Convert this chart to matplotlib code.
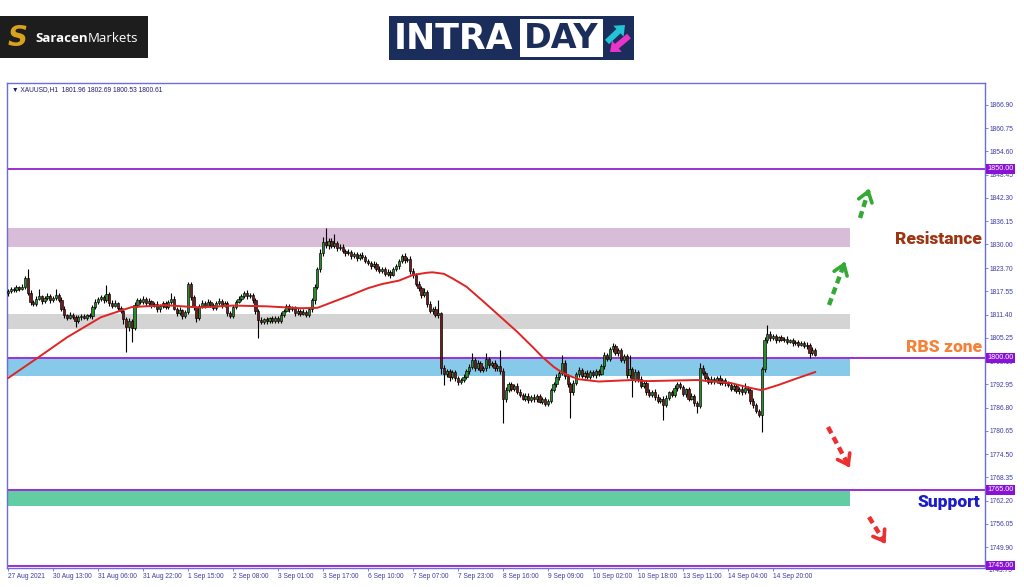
import numpy as np
import matplotlib.pyplot as plt
from matplotlib.patches import Rectangle, FancyArrow

# ---- data (XAUUSD H1) ----
first_open = 1817.0
closes = [
    1817.6, 1818.2, 1818.0, 1818.6, 1818.3, 1818.8, 1821.0, 1817.2, 1814.8, 1814.2, 1815.6, 1816.2, 1815.0, 1815.8, 1816.4, 1815.2,
    1815.8, 1816.6, 1815.4, 1813.0, 1811.2, 1810.6, 1811.4, 1810.8, 1809.6, 1810.8, 1811.0, 1810.6, 1811.2, 1811.0, 1813.4, 1814.8,
    1815.6, 1816.0, 1815.2, 1816.8, 1814.6, 1813.8, 1814.4, 1813.2, 1812.4, 1810.2, 1808.2, 1809.6, 1807.8, 1814.0, 1815.2, 1814.8,
    1815.6, 1814.4, 1815.0, 1813.8, 1814.2, 1812.8, 1813.6, 1814.4, 1813.4, 1814.8, 1815.6, 1813.0, 1811.8, 1812.6, 1811.0, 1812.0,
    1819.4, 1816.0, 1813.4, 1810.6, 1813.6, 1814.6, 1813.8, 1814.8, 1814.0, 1813.2, 1814.4, 1815.0, 1813.8, 1814.6, 1811.8, 1811.0,
    1813.4, 1814.8, 1815.6, 1816.4, 1817.0, 1816.2, 1816.6, 1815.2, 1812.4, 1810.0, 1809.4, 1810.2, 1809.6, 1810.4, 1809.8, 1810.6,
    1809.8, 1811.4, 1812.4, 1813.6, 1812.8, 1813.2, 1811.8, 1812.4, 1811.6, 1812.2, 1811.4, 1812.8, 1815.2, 1818.8, 1823.4, 1827.6,
    1830.6, 1829.8, 1831.0, 1829.6, 1830.4, 1829.0, 1829.4, 1828.2, 1827.6, 1828.0, 1826.8, 1827.4, 1826.4, 1827.2, 1826.6, 1825.6,
    1825.0, 1824.2, 1824.8, 1823.6, 1823.0, 1823.4, 1822.2, 1822.8, 1822.0, 1823.4, 1824.2, 1825.6, 1826.8, 1825.8, 1826.2, 1823.0,
    1821.8, 1819.6, 1818.4, 1816.6, 1817.4, 1814.2, 1812.4, 1813.0, 1811.2, 1811.8, 1797.2, 1795.6, 1796.4, 1795.0, 1796.2, 1794.6,
    1793.6, 1794.2, 1795.0, 1796.4, 1797.6, 1799.4, 1797.4, 1798.6, 1796.8, 1797.2, 1799.6, 1798.0, 1798.6, 1797.2, 1797.8, 1796.6,
    1789.2, 1791.4, 1793.0, 1791.8, 1792.6, 1791.0, 1790.2, 1789.2, 1790.0, 1788.8, 1789.6, 1789.0, 1789.8, 1788.4, 1789.0, 1787.8,
    1788.6, 1791.4, 1793.0, 1794.8, 1796.0, 1798.6, 1795.2, 1793.0, 1790.8, 1793.4, 1795.6, 1796.8, 1795.2, 1796.0, 1795.0, 1796.2,
    1795.4, 1796.4, 1795.8, 1797.8, 1800.6, 1799.6, 1802.2, 1803.0, 1801.2, 1802.0, 1799.4, 1800.4, 1795.4, 1797.0, 1794.2, 1796.2,
    1794.4, 1792.6, 1793.4, 1791.0, 1790.2, 1791.0, 1789.6, 1788.6, 1789.2, 1787.6, 1789.4, 1790.8, 1790.2, 1792.0, 1793.0, 1792.2,
    1790.4, 1791.6, 1789.2, 1790.0, 1788.0, 1787.2, 1797.4, 1796.0, 1794.6, 1793.6, 1794.4, 1793.8, 1794.6, 1793.4, 1794.0, 1793.2,
    1792.8, 1791.8, 1792.4, 1791.2, 1791.8, 1790.8, 1792.0, 1791.4, 1788.6, 1787.4, 1786.0, 1784.8, 1797.0, 1804.6, 1806.4, 1805.2,
    1805.8, 1804.6, 1805.4, 1804.8, 1805.0, 1804.2, 1804.6, 1803.8, 1804.2, 1803.4, 1803.8, 1803.0, 1803.4, 1801.2, 1801.96, 1800.61,
]
upper_wick = [
    0.5, 0.6, 0.4, 0.7, 0.5, 0.6, 0.5, 2.4, 0.6, 0.5, 0.7, 2.0, 0.4, 0.6, 0.8, 0.5,
    0.6, 1.5, 0.5, 0.7, 0.6, 0.4, 0.8, 0.5, 0.4, 0.6, 0.5, 0.7, 0.4, 0.6, 0.5, 0.8,
    0.5, 0.7, 0.6, 2.5, 0.5, 0.6, 0.8, 0.4, 0.6, 0.7, 0.5, 0.9, 0.6, 0.7, 0.5, 0.6,
    0.6, 0.5, 0.7, 0.4, 0.6, 0.8, 0.5, 0.6, 0.7, 0.5, 1.6, 0.6, 0.5, 0.7, 0.4, 0.6,
    0.7, 0.6, 0.5, 0.4, 0.7, 0.6, 0.5, 0.8, 0.4, 0.6, 0.5, 0.7, 0.6, 0.5, 0.4, 0.6,
    0.5, 0.6, 0.7, 0.5, 0.6, 0.8, 0.5, 0.4, 0.6, 0.5, 0.7, 0.4, 0.6, 0.5, 0.6, 0.4,
    0.5, 0.6, 0.4, 0.7, 0.5, 0.6, 0.5, 0.7, 0.4, 0.6, 0.5, 0.6, 0.5, 0.8, 0.6, 1.2,
    1.4, 3.8, 0.8, 0.6, 2.4, 0.5, 0.7, 0.6, 0.5, 0.8, 0.6, 0.7, 0.5, 0.6, 0.7, 0.5,
    0.6, 0.5, 0.7, 0.4, 0.6, 0.5, 0.7, 0.6, 0.5, 0.6, 0.7, 0.5, 0.6, 1.0, 0.5, 0.6,
    0.7, 0.6, 0.8, 0.5, 1.0, 0.6, 0.7, 0.5, 0.6, 3.5, 0.4, 0.8, 0.6, 0.7, 0.5, 0.6,
    0.6, 0.5, 0.7, 0.6, 0.8, 1.9, 0.6, 0.7, 0.5, 0.6, 1.7, 0.6, 0.5, 0.7, 0.6, 4.3,
    0.6, 0.8, 0.7, 0.6, 0.5, 0.7, 0.6, 0.5, 0.7, 0.6, 0.5, 0.7, 0.6, 0.5, 0.6, 0.7,
    0.6, 0.7, 0.5, 0.8, 0.6, 2.1, 0.7, 0.6, 0.5, 0.7, 0.6, 0.8, 0.5, 0.6, 0.7, 0.5,
    0.6, 0.5, 0.7, 0.6, 0.8, 0.6, 0.7, 0.9, 0.6, 0.5, 0.7, 0.6, 0.5, 3.7, 0.6, 0.7,
    0.6, 0.7, 0.5, 0.6, 0.7, 0.5, 0.6, 0.8, 0.5, 0.6, 0.7, 0.5, 0.6, 0.7, 0.5, 0.6,
    0.6, 0.5, 0.7, 0.6, 0.5, 0.6, 1.2, 0.7, 0.6, 0.5, 0.7, 0.6, 0.5, 0.7, 0.6, 0.5,
    0.6, 0.5, 0.7, 0.6, 0.5, 0.7, 1.4, 0.6, 0.5, 0.7, 0.6, 0.5, 0.6, 0.9, 2.3, 0.7,
    0.5, 0.6, 0.4, 0.6, 0.5, 0.7, 0.4, 0.6, 0.5, 0.4, 0.6, 0.5, 0.7, 0.6, 0.8, 0.73,
]
lower_wick = [
    0.6, 0.4, 0.7, 0.5, 0.6, 0.4, 0.5, 0.7, 0.8, 0.6, 0.5, 0.4, 0.7, 0.5, 0.4, 0.6,
    0.5, 0.4, 0.7, 0.6, 0.8, 0.5, 0.4, 0.6, 1.6, 0.5, 0.7, 0.4, 0.6, 0.5, 0.7, 0.4,
    0.6, 0.5, 0.7, 0.4, 0.8, 0.6, 0.5, 0.7, 0.6, 1.2, 6.7, 1.0, 3.6, 0.5, 0.6, 0.7,
    0.5, 0.7, 0.4, 0.6, 0.5, 0.7, 0.6, 0.4, 0.5, 0.6, 0.7, 0.5, 0.8, 0.6, 0.7, 0.5,
    0.5, 0.6, 0.7, 1.1, 0.5, 0.4, 0.6, 0.5, 0.7, 0.6, 0.5, 0.4, 0.6, 0.5, 0.8, 0.6,
    0.6, 0.5, 0.4, 0.6, 0.5, 0.7, 0.4, 0.6, 0.8, 4.7, 0.6, 0.5, 0.7, 0.4, 0.6, 0.5,
    0.6, 0.5, 0.7, 0.4, 0.6, 0.5, 0.7, 0.5, 0.6, 0.4, 0.7, 0.5, 0.6, 0.9, 0.7, 0.8,
    0.8, 0.7, 0.9, 0.6, 0.5, 0.7, 0.6, 0.5, 0.7, 0.4, 0.6, 0.5, 0.7, 0.6, 0.5, 0.6,
    0.5, 0.7, 0.4, 0.6, 0.5, 0.7, 0.6, 0.5, 0.8, 0.5, 0.4, 0.6, 0.5, 0.7, 0.6, 0.8,
    0.8, 0.6, 0.7, 0.9, 0.5, 0.7, 0.6, 0.8, 0.5, 0.6, 1.5, 2.8, 0.7, 1.2, 0.6, 0.8,
    0.7, 0.6, 0.5, 0.7, 0.6, 0.5, 0.8, 0.6, 0.7, 0.5, 0.6, 0.7, 0.5, 0.6, 0.7, 0.8,
    6.5, 0.8, 0.6, 0.7, 0.5, 0.6, 0.7, 0.5, 0.6, 0.8, 0.5, 0.7, 0.6, 0.5, 0.7, 0.6,
    0.7, 0.6, 0.5, 0.7, 0.6, 0.5, 0.8, 0.7, 6.7, 0.6, 0.5, 0.7, 0.6, 0.5, 0.7, 0.6,
    0.5, 0.7, 0.6, 0.5, 0.7, 0.6, 0.5, 0.7, 0.6, 0.8, 0.5, 0.7, 0.9, 0.8, 4.6, 0.6,
    0.7, 0.5, 0.6, 0.8, 0.6, 0.5, 0.7, 0.6, 0.5, 4.1, 0.6, 0.7, 0.5, 0.6, 0.7, 0.5,
    0.5, 0.7, 0.6, 0.5, 0.8, 1.8, 0.6, 0.5, 0.7, 0.6, 0.5, 0.7, 0.6, 0.5, 0.7, 0.6,
    0.5, 0.7, 0.6, 0.5, 0.7, 0.6, 0.5, 0.7, 0.8, 0.6, 0.7, 0.6, 4.4, 0.8, 0.6, 0.7,
    0.4, 0.6, 0.5, 0.4, 0.6, 0.5, 0.4, 0.6, 0.5, 0.6, 0.4, 0.5, 0.6, 1.3, 0.5, 0.08,
]

# moving average, read at a number of bars
ma_bars = [0, 11, 21, 33, 39, 44, 56, 68, 80, 92,
           104, 110, 116, 122, 128, 133, 139, 144, 149, 151,
           155, 158, 163, 169, 175, 181, 187, 190, 194, 197, 200,
           203, 210, 222, 227, 245, 257, 264, 268, 274, 280, 287]
ma_values = [1794.6, 1800.2, 1805.4, 1810.7, 1812.2, 1813.4, 1813.9, 1813.3, 1813.8, 1813.6,
             1813.1, 1813.2, 1814.9, 1816.6, 1818.4, 1819.5, 1820.4, 1821.9, 1822.5, 1822.6,
             1822.2, 1821.0, 1818.8, 1814.9, 1810.9, 1806.9, 1802.5, 1800.2, 1797.6, 1796.1, 1795.1,
             1794.3, 1793.7, 1794.1, 1793.8, 1794.1, 1793.3, 1792.0, 1791.4, 1792.8, 1794.4, 1796.2]

time_labels = ['27 Aug 2021', '30 Aug 13:00', '31 Aug 06:00', '31 Aug 22:00', '1 Sep 15:00',
               '2 Sep 08:00', '3 Sep 01:00', '3 Sep 17:00', '6 Sep 10:00', '7 Sep 07:00',
               '7 Sep 23:00', '8 Sep 16:00', '9 Sep 09:00', '10 Sep 02:00', '10 Sep 18:00',
               '13 Sep 11:00', '14 Sep 04:00', '14 Sep 20:00']
price_ticks = [1866.90, 1860.75, 1854.60, 1848.45, 1842.30, 1836.15, 1830.00, 1823.70,
               1817.55, 1811.40, 1805.25, 1799.10, 1792.95, 1786.80, 1780.65, 1774.50,
               1768.35, 1762.20, 1756.05, 1749.90]
levels = [1850.00, 1800.00, 1765.00, 1745.00]
zone_low = [1829.4, 1807.5, 1795.1, 1760.8]
zone_high = [1834.2, 1811.7, 1799.6, 1765.0]
zone_colors = ['#d8bcd8', '#d4d4d4', '#86c9e8', '#62cda2']

# ---- figure ----
W, H = 1024, 587
fig = plt.figure(figsize=(W / 100, H / 100), dpi=100)
fig.patch.set_facecolor('white')

frame = '#6c6cdc'
tick_col = '#3b3ba6'
ax = fig.add_axes([7 / W, (H - 568) / H, (985 - 7) / W, (568 - 83) / H])
ax.set_xlim(-0.36, 347.4)
ax.set_ylim(1744.35, 1872.7)
for s in ax.spines.values():
    s.set_color(frame)
    s.set_linewidth(1.0)

opens = np.r_[first_open, closes[:-1]]
c = np.array(closes)
highs = np.maximum(opens, c) + np.array(upper_wick)
lows = np.minimum(opens, c) - np.array(lower_wick)
x = np.arange(len(c))
up = c >= opens

# zones
for lo, hi, col in zip(zone_low, zone_high, zone_colors):
    ax.add_patch(Rectangle((-0.36, lo), 299.8, hi - lo, fc=col, ec='none', zorder=1))

for lv in levels:
    ax.axhline(lv, color='#9b2fd4', lw=1.4, zorder=2)
    ax.text(1.002, lv, '%.2f' % lv, transform=ax.get_yaxis_transform(), fontsize=5.2,
            family='Liberation Sans', color='white', ha='left', va='center', zorder=6, clip_on=False,
            bbox=dict(boxstyle='square,pad=0.2', fc='#8a12d6', ec='none'))

# candles
ax.vlines(x, lows, highs, color='black', lw=0.8, zorder=3)
ax.bar(x[up], (c - opens)[up], bottom=opens[up], width=0.8, color='#2b8c2e',
       edgecolor='black', linewidth=0.45, zorder=4)
ax.bar(x[~up], (opens - c)[~up], bottom=c[~up], width=0.8, color='#701c1c',
       edgecolor='black', linewidth=0.45, zorder=4)

ax.plot(ma_bars, ma_values, color='#e02424', lw=1.4, zorder=5, solid_joinstyle='round')

# axes ticks
ax.yaxis.tick_right()
ax.set_yticks(price_ticks)
ax.set_yticklabels(['%.2f' % p for p in price_ticks])
ax.set_xticks(np.arange(0, 16 * len(time_labels), 16))
ax.set_xticklabels(time_labels, ha='left')
ax.tick_params(axis='both', length=2, width=0.6, color=frame, labelsize=4.8,
               labelcolor=tick_col, pad=1.5)
for t in ax.get_xticklabels() + ax.get_yticklabels():
    t.set_family('Liberation Sans')
ax.text(1.004, 1743.75, '1743.75', transform=ax.get_yaxis_transform(), fontsize=4.8,
        family='Liberation Sans', color=tick_col, ha='left', va='center', clip_on=False, zorder=1)

ax.text(0.005, 0.987, '\u25bc XAUUSD,H1  1801.96 1802.69 1800.53 1800.61', transform=ax.transAxes,
        fontsize=4.8, family='Liberation Sans', color='#1c1c70', ha='left', va='center')

# ---- overlay in pixel coordinates: logos, arrows, labels ----
ov = fig.add_axes([0, 0, 1, 1], zorder=10)
ov.set_xlim(0, W)
ov.set_ylim(H, 0)
ov.axis('off')
ov.patch.set_alpha(0)

ov.text(982, 239, 'Resistance', fontsize=12.5, family='Roboto', fontweight='black',
        color='#9c3612', ha='right', va='center')
ov.text(982, 347, 'RBS zone', fontsize=12.5, family='Roboto', fontweight='black',
        color='#f3823a', ha='right', va='center')
ov.text(980, 502, 'Support', fontsize=12.5, family='Roboto', fontweight='black',
        color='#1c1ccc', ha='right', va='center')

def dashed_arrow(x0, y0, x1, y1, col):
    d = np.hypot(x1 - x0, y1 - y0)
    ux, uy = (x1 - x0) / d, (y1 - y0) / d
    ov.plot([x0, x1 - ux * 5], [y0, y1 - uy * 5], color=col, lw=3.2,
            ls=(0, (1.6, 1.0)), solid_capstyle='butt')
    ov.annotate('', xy=(x1, y1), xytext=(x1 - ux * 9, y1 - uy * 9),
                arrowprops=dict(arrowstyle='->,head_length=0.7,head_width=0.5',
                                color=col, lw=2.6, mutation_scale=10))

dashed_arrow(829, 305, 846, 259, '#35a835')
dashed_arrow(860, 218, 870, 186, '#35a835')
dashed_arrow(828, 427, 851, 470, '#ec2f2f')
dashed_arrow(869, 517, 887, 546, '#ec2f2f')

# Saracen Markets logo
ov.add_patch(Rectangle((0, 16), 148, 42, fc='#1d1d1d', ec='none'))
ov.text(18, 38, 'S', fontsize=20, family='DejaVu Sans', fontweight='bold', style='italic',
        color='#d8a11e', ha='center', va='center')
t1 = ov.text(35, 38, 'Saracen', fontsize=9.5, family='Open Sans', fontweight='bold',
             color='white', ha='left', va='center')
ov.annotate('Markets', xy=(1, 0.5), xycoords=t1, fontsize=9.5, family='Open Sans',
            color='white', ha='left', va='center')

# INTRADAY logo
ov.add_patch(Rectangle((389, 16), 245, 44, fc='#1b2d5a', ec='none'))
ov.add_patch(Rectangle((520, 19), 83, 38, fc='white', ec='none'))
ov.text(394, 39, 'INTRA', fontsize=25, family='DejaVu Sans', fontweight='bold',
        color='white', ha='left', va='center')
ov.text(561, 39, 'DAY', fontsize=24, family='DejaVu Sans', fontweight='bold',
        color='#1b2d5a', ha='center', va='center')
ov.add_patch(FancyArrow(607, 42, 18, -17, width=6, head_width=15, head_length=9,
                        length_includes_head=True, fc='#22c4d6', ec='none'))
ov.add_patch(FancyArrow(629, 36, -19, 16, width=6, head_width=15, head_length=9,
                        length_includes_head=True, fc='#e834c8', ec='none'))

fig.savefig('out.png', dpi=100)
